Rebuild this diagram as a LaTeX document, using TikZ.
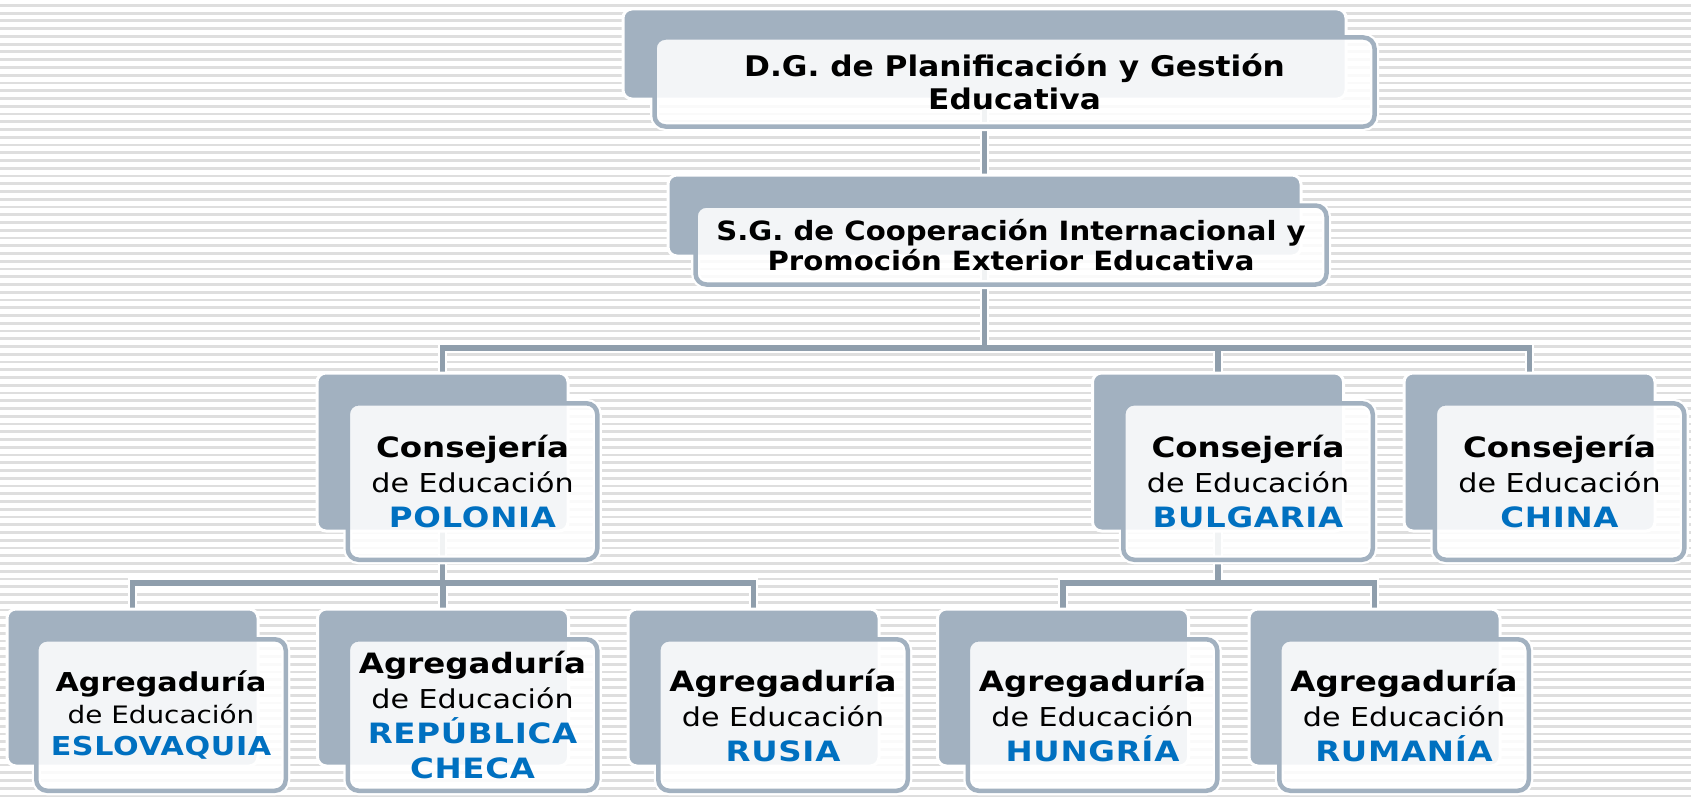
\documentclass[tikz,border=0pt]{standalone}
\usepackage{fontspec}
\setmainfont{DejaVu Sans}
\newfontfamily\topfont[FakeStretch=1.1]{DejaVu Sans}
\newfontfamily\boxfont[FakeStretch=1.16]{DejaVu Sans}
\newfontfamily\ctryfont[FakeStretch=1.16,LetterSpace=2.5]{DejaVu Sans}
\definecolor{bgstripe}{RGB}{222,222,222}
\definecolor{boxgray}{RGB}{162,177,192}
\definecolor{linegray}{RGB}{143,158,172}
\definecolor{ctry}{RGB}{0,112,192}
\pgfdeclarelayer{stripes}
\pgfdeclarelayer{lines}
\pgfdeclarelayer{halos}
\pgfsetlayers{stripes,lines,halos,main}
\tikzset{
  backbox/.style={rectangle, rounded corners=9pt, fill=boxgray, draw=white, line width=3pt, inner sep=0pt, outer sep=0pt},
  frontbox/.style={rectangle, rounded corners=11pt, draw=boxgray, line width=4.5pt, fill=white, fill opacity=0.88, text opacity=1, align=center, inner sep=0pt, outer sep=0pt},
  topbox/.style={frontbox, font=\topfont\bfseries\fontsize{28.4}{33}\selectfont},
  midbox/.style={frontbox, font=\boxfont\fontsize{26}{35}\selectfont},
  halo/.style={draw=white, line width=9.5pt},
  conn/.style={draw=linegray, line width=5.5pt},
  fronthalo/.style={draw=white, line width=9pt, rounded corners=11pt}
}
\newcommand\ctry[1]{{\color{ctry}\ctryfont\bfseries\fontsize{28}{35}\selectfont #1}}
\newcommand\head[1]{{\bfseries\fontsize{28}{35}\selectfont #1}}
\newcommand\ctrys[1]{{\color{ctry}\ctryfont\bfseries\fontsize{26}{32}\selectfont #1}}
\newcommand\heads[1]{{\bfseries\fontsize{26}{32}\selectfont #1}}
\begin{document}
\begin{tikzpicture}[x=1pt,y=-1pt]
\useasboundingbox (0,0) rectangle (1691,800);
\begin{pgfonlayer}{stripes}
\fill[white] (0,0) rectangle (1691,800);
\foreach \i in {0,...,102} \fill[bgstripe] (0,{4+7.75*\i}) rectangle (1691,{6.8+7.75*\i});
\end{pgfonlayer}
% top levels
\node[backbox, minimum width=723, minimum height=90] (dgB) at (984.5,54) {};
\node[topbox, minimum width=720, minimum height=89] (dg) at (1014.5,82) {D.G. de Planificación y Gestión\\Educativa};
\node[backbox, minimum width=633, minimum height=81] (sgB) at (984.5,215.5) {};
\node[topbox, font=\topfont\bfseries\fontsize{26.5}{30}\selectfont, minimum width=631, minimum height=79] (sg) at (1011,245) {S.G. de Cooperación Internacional y\\Promoción Exterior Educativa};
% consejerias
\node[backbox, minimum width=251, minimum height=158] (polB) at (442.5,452) {};
\node[midbox, minimum width=249.5, minimum height=156.5] (pol) at (472.5,481.5) {\head{Consejería}\\de Educación\\\ctry{POLONIA}};
\node[backbox, minimum width=251, minimum height=158] (bulB) at (1218,452) {};
\node[midbox, minimum width=249.5, minimum height=156.5] (bul) at (1248,481.5) {\head{Consejería}\\de Educación\\\ctry{BULGARIA}};
\node[backbox, minimum width=251, minimum height=158] (chiB) at (1529.5,452) {};
\node[midbox, minimum width=249.5, minimum height=156.5] (chi) at (1559.5,481.5) {\head{Consejería}\\de Educación\\\ctry{CHINA}};
% agregadurias
\node[backbox, minimum width=251, minimum height=157] (eslB) at (132.5,687.5) {};
\node[midbox, font=\boxfont\fontsize{24}{32}\selectfont, minimum width=249.5, minimum height=151.5] (esl) at (161,715) {\heads{Agregaduría}\\de Educación\\\ctrys{ESLOVAQUIA}};
\node[backbox, minimum width=251, minimum height=157] (rchB) at (443,687.5) {};
\node[midbox, minimum width=249.5, minimum height=151.5] (rch) at (472.5,715) {\head{Agregaduría}\\de Educación\\\ctry{REPÚBLICA}\\\ctry{CHECA}};
\node[backbox, minimum width=251, minimum height=157] (rusB) at (753.5,687.5) {};
\node[midbox, minimum width=249.5, minimum height=151.5] (rus) at (783,715) {\head{Agregaduría}\\de Educación\\\ctry{RUSIA}};
\node[backbox, minimum width=251, minimum height=157] (hunB) at (1063,687.5) {};
\node[midbox, minimum width=249.5, minimum height=151.5] (hun) at (1092.5,715) {\head{Agregaduría}\\de Educación\\\ctry{HUNGRÍA}};
\node[backbox, minimum width=251, minimum height=157] (rumB) at (1374.5,687.5) {};
\node[midbox, minimum width=249.5, minimum height=151.5] (rum) at (1404,715) {\head{Agregaduría}\\de Educación\\\ctry{RUMANÍA}};
% junctions
\coordinate (j1) at (984.5,348);
\coordinate (j2) at (442.5,583);
\coordinate (j3) at (1218,583);
\begin{pgfonlayer}{halos}
\foreach \n in {dg,sg,pol,bul,chi,esl,rch,rus,hun,rum}
  \draw[fronthalo] (\n.south west) rectangle (\n.north east);
\end{pgfonlayer}
\begin{pgfonlayer}{lines}
\foreach \s in {halo,conn}{
  \draw[\s] (dgB) -- (sgB);
  \draw[\s] (sgB) -- (j1);
  \draw[\s] (polB) |- (j1) -| (chiB);
  \draw[\s] (bulB) -- (bulB |- j1);
  \draw[\s] (polB) -- (j2);
  \draw[\s] (eslB) |- (j2) -| (rusB);
  \draw[\s] (rchB) -- (rchB |- j2);
  \draw[\s] (bulB) -- (j3);
  \draw[\s] (hunB) |- (j3) -| (rumB);
}
\end{pgfonlayer}
\end{tikzpicture}
\end{document}
